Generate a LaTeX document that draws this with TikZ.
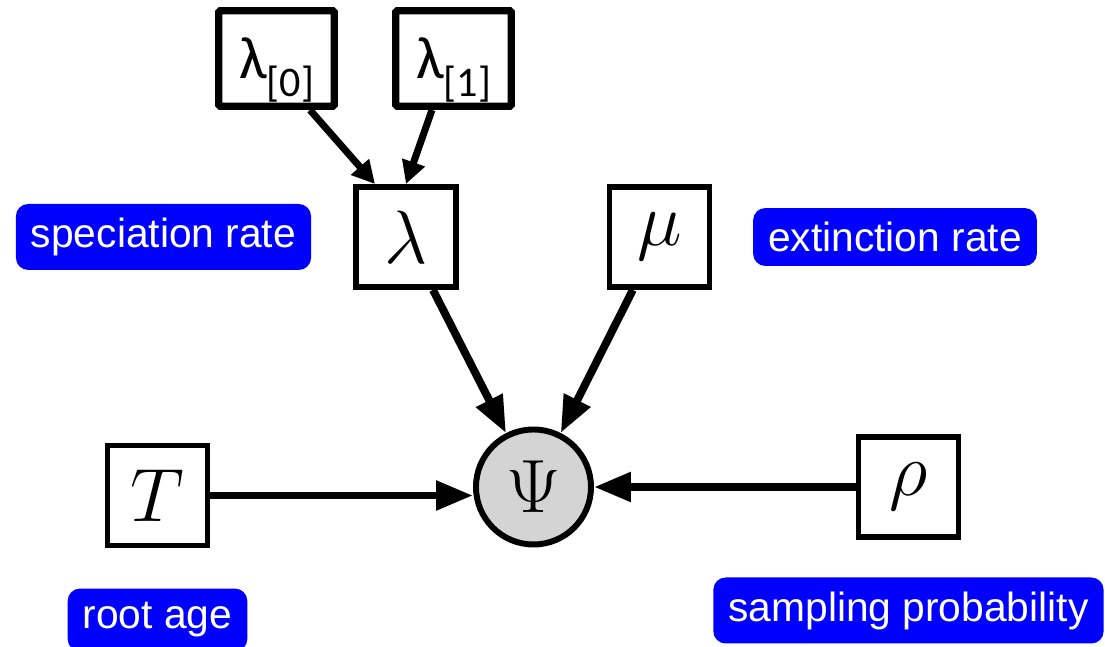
\RequirePackage{fix-cm}
\documentclass[tikz,border=0pt]{standalone}
\usepackage{fontspec}
\usetikzlibrary{arrows.meta}
\newfontfamily\tagfont{Liberation Sans}
\newfontfamily\calfont{Carlito}
\definecolor{tagblue}{HTML}{0000FF}
\definecolor{psigray}{HTML}{D4D4D4}
\tikzset{
	param/.style={draw, line width=3.4pt, minimum size=2cm, font=\fontsize{43}{50}\selectfont},
	hyper/.style={draw, line width=4.25pt, rounded corners=1pt, minimum width=2.31cm, minimum height=1.91cm, text depth=0pt, font=\calfont\fontsize{34}{40}\selectfont},
	data/.style={circle, draw, line width=3.4pt, fill=psigray, minimum size=2.3cm, font=\fontsize{43}{50}\selectfont},
	tag/.style={fill=tagblue, text=white, rounded corners=7pt, inner xsep=0.3cm, inner ysep=0.28cm, font=\tagfont\fontsize{23.2}{26}\selectfont},
	arr/.style={-{Triangle[length=21pt,width=16pt]}, line width=4.5pt},
	arrsmall/.style={-{Triangle[length=13pt,width=13pt]}, line width=4pt}
}
\begin{document}
\begin{tikzpicture}[node distance=1.5cm, auto]
	\useasboundingbox (-10.67,-3.2) rectangle (11.43,9.74);
	\node[data] (Psi) {$\Psi$};
	\node[param] (lambda) [node distance=5cm, above of=Psi, xshift=-2.55cm] {$\lambda$};
	\node[param] (mu) [node distance=5.07cm, right of=lambda] {$\mu$};
	\node[param] (T) [node distance=7.52cm, left of=Psi, yshift=-0.17cm] {$T$};
	\node[param] (rho) [node distance=7.5cm, right of=Psi] {$\rho$};
	\node[hyper] (lambda0) [node distance=3.57cm, above of=lambda, xshift=-2.59cm] {λ\raisebox{-10pt}{\fontsize{24}{28}\selectfont[0]}};
	\node[hyper] (lambda1) [node distance=3.57cm, above of=lambda, xshift=0.95cm] {λ\raisebox{-10pt}{\fontsize{24}{28}\selectfont[1]}};
	% labels
	\node[tag] (specrate) [node distance=4.85cm, left of=lambda] {speciation rate};
	\node[tag] (extrate) [node distance=4.71cm, right of=mu] {extinction rate};
	\node[tag] (rootage) [node distance=2.49cm, below of=T] {root age};
	\node[tag] (sampprob) [node distance=2.47cm, below of=rho] {sampling probability};
	% edges
	\draw[arrsmall] ([xshift=0.67cm]lambda0.south) to ([xshift=-0.62cm]lambda.north);
	\draw[arrsmall] ([xshift=-0.43cm]lambda1.south) to (lambda.north);
	\draw[arr] (lambda) to (Psi);
	\draw[arr] (mu) to (Psi);
	\draw[arr] (T) to (T -| Psi.west);
	\draw[arr] (rho) to (Psi);
\end{tikzpicture}
\end{document}
